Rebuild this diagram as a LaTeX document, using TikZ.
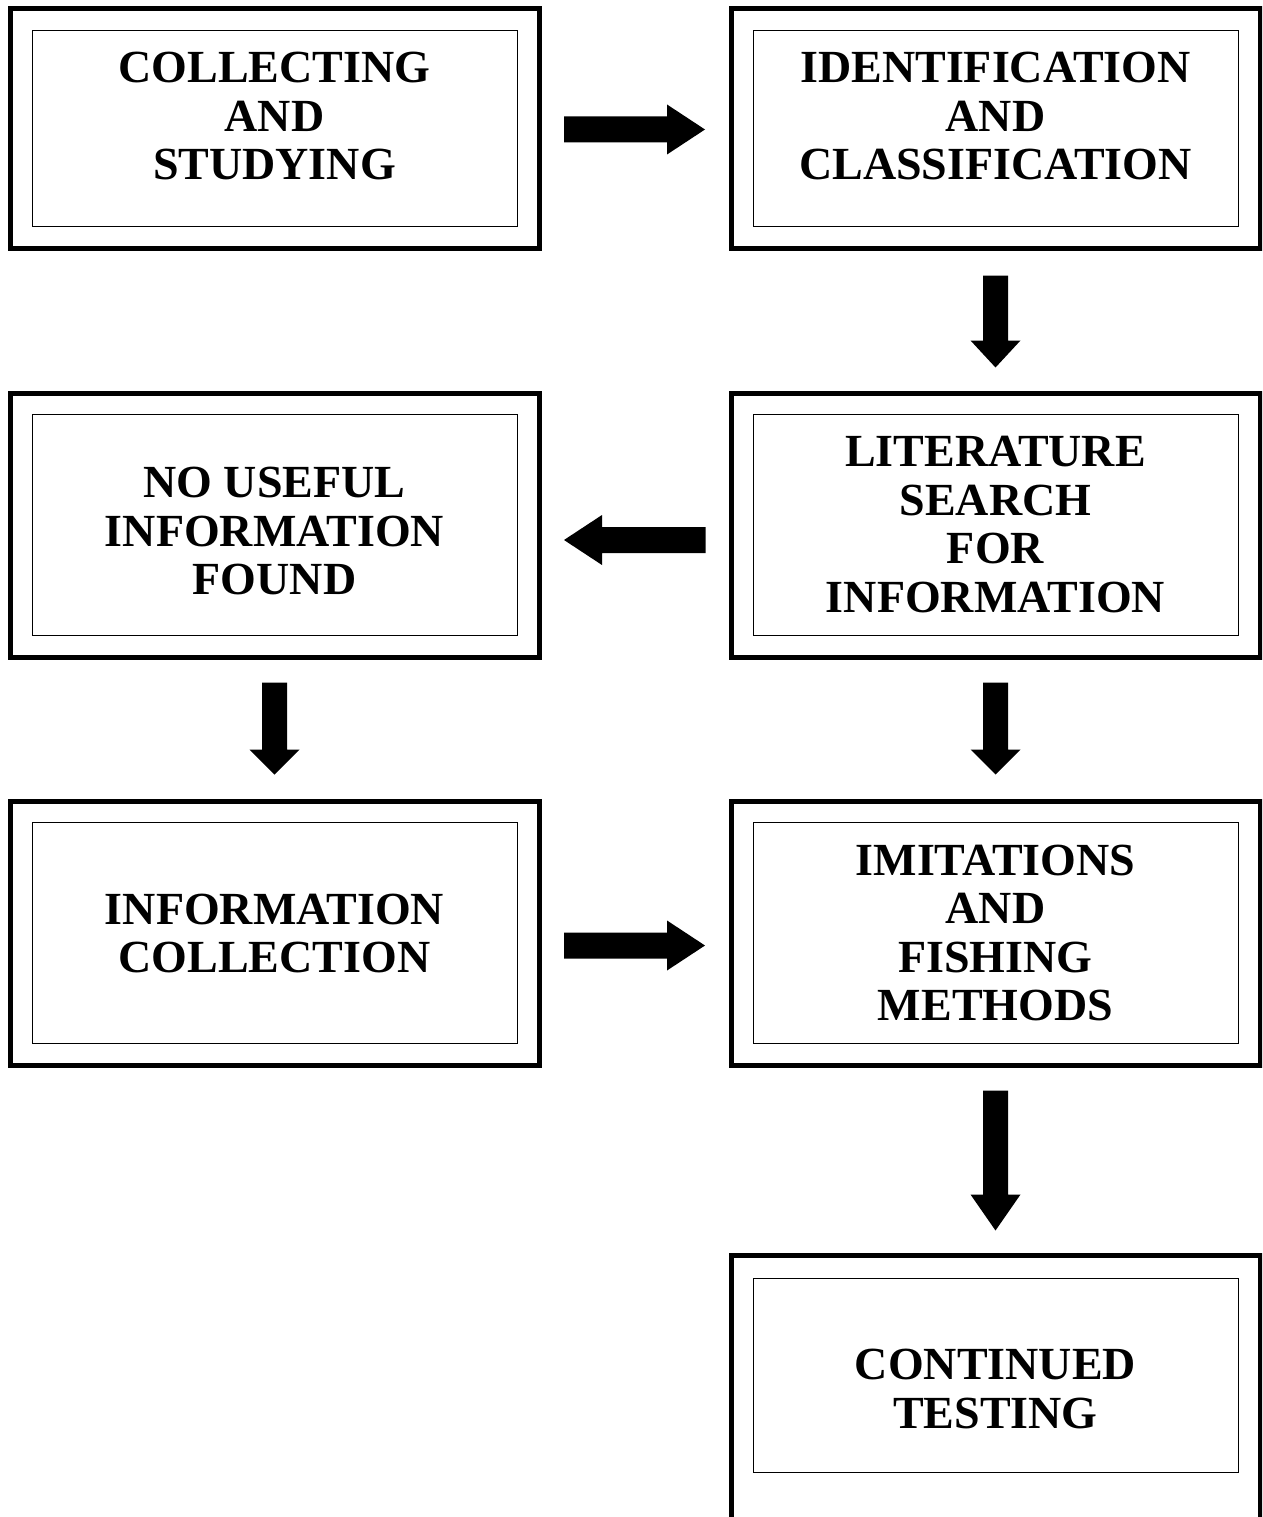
\documentclass[tikz,border=0pt]{standalone}
\usepackage{fontspec}
\setmainfont{Liberation Serif}
\usetikzlibrary{calc}
\tikzset{
  outerbox/.style={draw, line width=5pt, minimum width=529pt, minimum height=#1, inner sep=0pt},
  innerbox/.style={draw, line width=1.2pt},
  lbl/.style={align=center, font=\fontsize{46}{48.5}\selectfont\bfseries, inner sep=0pt},
}
\newcommand\harr[3]{%
  \fill ($(#1)+(0,-13)$) -- ($(#2)+({-38*#3},-13)$) -- ($(#2)+({-38*#3},-25)$) -- (#2)
     -- ($(#2)+({-38*#3},25)$) -- ($(#2)+({-38*#3},13)$) -- ($(#1)+(0,13)$) -- cycle;}
\newcommand\varr[3]{%
  \fill ($(#1)+(-12.5,0)$) -- ($(#2)+(-12.5,-#3)$) -- ($(#2)+(-25,-#3)$) -- (#2)
     -- ($(#2)+(25,-#3)$) -- ($(#2)+(12.5,-#3)$) -- ($(#1)+(12.5,0)$) -- cycle;}
\begin{document}
\begin{tikzpicture}[x=1pt,y=-1pt]
\useasboundingbox (0,0) rectangle (1262,1517);
\clip (0,0) rectangle (1262,1517);
\fill[white] (0,0) rectangle (1262,1517);
% boxes
\node[outerbox=239pt] (b1) at (274.5,128.5) {};
\node[outerbox=239pt] (b2) at (995.5,128.5) {};
\node[outerbox=264pt] (b3) at (274.5,525) {};
\node[outerbox=264pt] (b4) at (995.5,525) {};
\node[outerbox=264pt] (b5) at (274.5,933) {};
\node[outerbox=264pt] (b6) at (995.5,933) {};
\node[outerbox=300pt] (b7) at (995.5,1405) {};
\foreach \b in {b1,b2,b3,b4,b5,b6}{
  \draw[innerbox] ($(\b.north west)+(25,24)$) rectangle ($(\b.south east)+(-24,-24)$);
}
\draw[innerbox] ($(b7.north west)+(25,26)$) rectangle ($(b7.north east)+(-24,220)$);
% labels
\node[lbl] (t1) at (274.5,116) {COLLECTING\\AND\\STUDYING};
\node[lbl] (t2) at (995.5,116) {IDENTIFICATION\\AND\\CLASSIFICATION};
\node[lbl] (t3) at (274.5,531) {NO USEFUL\\INFORMATION\\FOUND};
\node[lbl] (t4) at (995.5,524.5) {LITERATURE\\SEARCH\\FOR\\INFORMATION};
\node[lbl] (t5) at (274.5,933.5) {INFORMATION\\COLLECTION};
\node[lbl] (t6) at (995.5,933) {IMITATIONS\\AND\\FISHING\\METHODS};
\node[lbl] (t7) at (995.5,1389) {CONTINUED\\TESTING};
% arrows
\coordinate (a1s) at ($(b1.east)+(22.5,1)$);
\coordinate (a1e) at ($(b2.west)+(-23.5,1)$);
\harr{a1s}{a1e}{1}
\coordinate (a2s) at ($(b2.south)+(0,25)$);
\coordinate (a2e) at ($(b4.north)+(0,-23)$);
\varr{a2s}{a2e}{27}
\coordinate (a3s) at ($(b4.west)+(-23,15)$);
\coordinate (a3e) at ($(b3.east)+(22.5,15)$);
\harr{a3s}{a3e}{-1}
\coordinate (a4s) at ($(b3.south)+(0,23)$);
\coordinate (a4e) at ($(b5.north)+(0,-24)$);
\varr{a4s}{a4e}{25}
\coordinate (a5s) at ($(b4.south)+(0,23)$);
\coordinate (a5e) at ($(b6.north)+(0,-24)$);
\varr{a5s}{a5e}{25}
\coordinate (a6s) at ($(b5.east)+(22.5,12.5)$);
\coordinate (a6e) at ($(b6.west)+(-23.5,12.5)$);
\harr{a6s}{a6e}{1}
\coordinate (a7s) at ($(b6.south)+(0,23)$);
\coordinate (a7e) at ($(b7.north)+(0,-22)$);
\varr{a7s}{a7e}{36}
\end{tikzpicture}
\end{document}
